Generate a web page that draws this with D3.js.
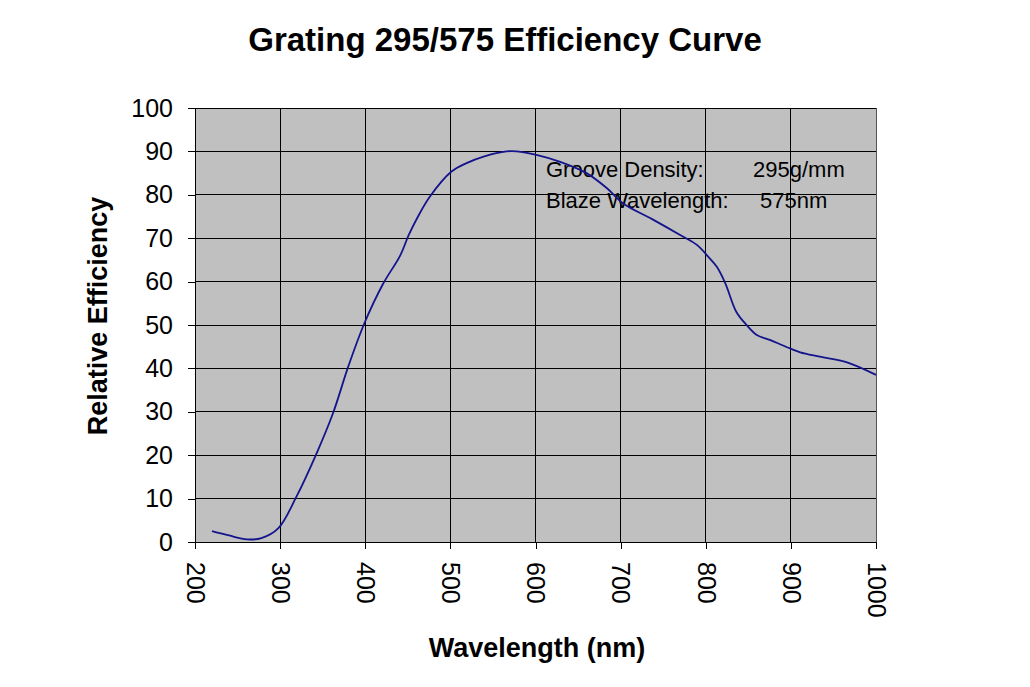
<!DOCTYPE html>
<html>
<head>
<meta charset="utf-8">
<script src="https://cdn.jsdelivr.net/npm/d3@7"></script>
<style>
  html, body { margin: 0; padding: 0; background: #ffffff; }
  svg text { font-family: "Liberation Sans", Arial, sans-serif; }
</style>
</head>
<body>
<svg id="chart" width="1030" height="687"></svg>
<script>
// ---- data ----
const wavelength = [220, 240, 261, 278, 298, 319, 343, 362, 380, 399, 421, 441, 451, 462, 476, 501, 519, 539, 566, 578, 601, 629, 660, 684, 703, 737, 772, 790, 803, 813, 823, 836, 848, 860, 876, 899, 911, 934, 966, 1000];
const efficiency = [2.5, 1.5, 0.6, 0.9, 3.2, 10.4, 20.5, 29.6, 40.4, 50.4, 59.5, 66, 70.7, 75, 79.6, 85.3, 87.3, 88.8, 90, 90, 89.2, 87.6, 85, 81.5, 78, 74.4, 70.5, 68.4, 65.7, 63.4, 59.6, 53, 50, 47.7, 46.5, 44.6, 43.7, 42.7, 41.4, 38.5];
const xTicks = [200, 300, 400, 500, 600, 700, 800, 900, 1000];
const yTicks = [0, 10, 20, 30, 40, 50, 60, 70, 80, 90, 100];
const titleText = "Grating 295/575 Efficiency Curve";
const xTitle = "Wavelength (nm)";
const yTitle = "Relative Efficiency";
const noteLabels = ["Groove Density:", "Blaze Wavelength:"];
const noteValues = ["295g/mm", "575nm"];

// ---- layout ----
const svg = d3.select("#chart");
const L = 195, R = 876, T = 108, B = 542;
const x = d3.scaleLinear().domain([200, 1000]).range([L, R]);
const y = d3.scaleLinear().domain([0, 100]).range([B, T]);

// plot background
svg.append("rect").attr("x", L).attr("y", T).attr("width", R - L).attr("height", B - T)
  .attr("fill", "#c0c0c0");

// gridlines
svg.append("g").selectAll("line.h").data(yTicks).join("line")
  .attr("x1", L).attr("x2", R).attr("y1", d => y(d)).attr("y2", d => y(d))
  .attr("stroke", "#000").attr("stroke-width", 1).attr("shape-rendering", "crispEdges");
svg.append("g").selectAll("line.v").data(xTicks).join("line")
  .attr("y1", T).attr("y2", B).attr("x1", d => x(d)).attr("x2", d => x(d))
  .attr("stroke", d => d === 1000 ? "#555" : "#000").attr("stroke-width", 1).attr("shape-rendering", "crispEdges");

// annotation text
const notes = svg.append("g").attr("font-size", 22).attr("fill", "#000");
noteLabels.forEach((t, i) => {
  notes.append("text").attr("x", 546).attr("y", 177 + i * 31).text(t);
  notes.append("text").attr("x", i === 0 ? 753 : 760).attr("y", 177 + i * 31).text(noteValues[i]);
});

// curve
const line = d3.line().x((d, i) => x(wavelength[i])).y((d, i) => y(efficiency[i]))
  .curve(d3.curveCatmullRom.alpha(0.5));
svg.append("path").datum(efficiency).attr("d", line)
  .attr("fill", "none").attr("stroke", "#14148c").attr("stroke-width", 1.8);

// axes
const yAxis = d3.axisLeft(y).tickValues(yTicks).tickSize(7).tickSizeOuter(0).tickPadding(15);
const gy = svg.append("g").attr("transform", `translate(${L},0)`).call(yAxis);
gy.selectAll("text").attr("font-size", 25).attr("fill", "#000")
  .style("font-family", '"Liberation Sans", Arial, sans-serif');
gy.selectAll("line, path").attr("stroke", "#000").attr("shape-rendering", "crispEdges");

const xAxis = d3.axisBottom(x).tickValues(xTicks).tickSize(7).tickSizeOuter(0).tickFormat(d3.format("d"));
const gx = svg.append("g").attr("transform", `translate(0,${B})`).call(xAxis);
gx.selectAll("line, path").attr("stroke", "#000").attr("shape-rendering", "crispEdges");
gx.selectAll("text").attr("font-size", 25).attr("fill", "#000")
  .style("font-family", '"Liberation Sans", Arial, sans-serif')
  .attr("transform", "translate(0,20) rotate(90)")
  .attr("x", 0).attr("y", 0).attr("dy", "0.35em").attr("text-anchor", "start");

// titles
svg.append("text").attr("x", 505).attr("y", 51).attr("text-anchor", "middle")
  .attr("font-size", 33).attr("font-weight", "bold").text(titleText);
svg.append("text").attr("x", 537).attr("y", 657).attr("text-anchor", "middle")
  .attr("font-size", 27).attr("font-weight", "bold").text(xTitle);
svg.append("text").attr("transform", "translate(107,316) rotate(-90)").attr("text-anchor", "middle")
  .attr("font-size", 27).attr("font-weight", "bold").text(yTitle);
</script>
</body>
</html>
